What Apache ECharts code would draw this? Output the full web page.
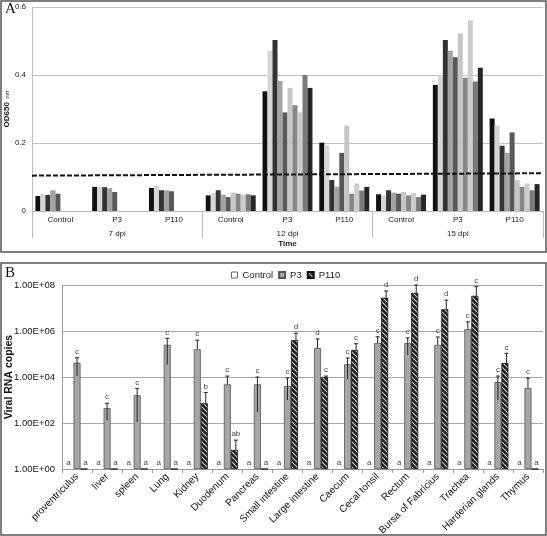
<!DOCTYPE html>
<html><head><meta charset="utf-8">
<script src="https://cdn.jsdelivr.net/npm/echarts@6/dist/echarts.min.js"></script>
<style>html,body{margin:0;padding:0;background:#fff}#c{width:547px;height:536px}</style>
</head><body><div id="c"></div>
<script>
// ---------- Panel A data (OD650, 10 birds per group) ----------
const categoriesA = ['Control','P3','P110','Control','P3','P110','Control','P3','P110'];
const timeGroups = ['7 dpi','12 dpi','15 dpi'];
const od7Control  = [0.044,0.050,0.047,0.061,0.051];
const od7P3       = [0.071,0.072,0.070,0.067,0.056];
const od7P110     = [0.068,0.074,0.061,0.061,0.058];
const od12Control = [0.046,0.053,0.061,0.048,0.041,0.054,0.051,0.048,0.049,0.046];
const od12P3      = [0.352,0.471,0.503,0.382,0.290,0.362,0.311,0.290,0.400,0.362];
const od12P110    = [0.201,0.192,0.091,0.071,0.171,0.251,0.051,0.081,0.060,0.071];
const od15Control = [0.049,0.046,0.061,0.054,0.051,0.056,0.046,0.053,0.041,0.048];
const od15P3      = [0.371,0.400,0.503,0.471,0.452,0.522,0.392,0.561,0.381,0.421];
const od15P110    = [0.272,0.251,0.192,0.171,0.231,0.091,0.071,0.081,0.061,0.079];
const cutoff = [0.104, 0.111];
const yTicksA = [0, 0.2, 0.4, 0.6];

// ---------- Panel B data (viral RNA copies) ----------
const tissues = ['proventriculus','liver','spleen','Lung','Kidney','Duodenum','Pancreas','Small intestine','Large intestine','Caecum','Cecal tonsil','Rectum','Bursa of Fabricius','Trachea','Harderian glands','Thymus'];
const copiesControl = [0,0,0,0,0,0,0,0,0,0,0,0,0,0,0,0];
const copiesP3   = [4.2e4,4.4e2,1.6e3,2.5e5,1.6e5,4.8e3,4.8e3,4.0e3,1.8e5,3.6e4,3.0e5,3.0e5,2.5e5,1.2e6,6.0e3,3.3e3];
const p3High     = [6.9e4,7.2e2,3.2e3,4.8e5,4.0e5,1.1e4,1.0e4,9.0e3,4.5e5,6.7e4,5.6e5,5.0e5,5.5e5,2.5e6,1.1e4,9.0e3];
const p3Low      = [1.1e4,1.3e2,1.1e2,3.5e4,1.6e5,4.8e3,3.0e2,1.0e3,1.8e5,8.0e3,3.0e5,9.0e4,2.5e5,1.2e6,1.0e3,3.3e3];
const copiesP110 = [0,0,0,0,7.2e2,6.7,0,4.0e5,1.0e4,1.5e5,2.8e7,4.6e7,8.8e6,3.4e7,4.0e4,0];
const p110High   = [0,0,0,0,2.1e3,18,0,8.0e5,1.1e4,2.8e5,5.5e7,1.0e8,2.2e7,8.5e7,1.07e5,0];
const lettersControl = ['a','a','a','a','a','a','a','a','a','a','a','a','a','a','a','a'];
const lettersP3   = ['c','c','c','c','c','c','c','c','d','c','c','c','c','c','c','c'];
const lettersP110 = ['a','a','a','a','b','ab','a','d','c','c','d','d','d','c','c','a'];
const yTicksB = [1e0,1e2,1e4,1e6,1e8];

// ---------- build ----------
const groupsA = [od7Control,od7P3,od7P110,od12Control,od12P3,od12P110,od15Control,od15P3,od15P110];
const birdColors = ['#111111','#d6d6d6','#333333','#a3a3a3','#595959','#c6c6c6','#868686','#cccccc','#7a7a7a','#262626'];
const seriesA = birdColors.map((col,k)=>({
  type:'bar', name:'bird'+(k+1), xAxisIndex:0, yAxisIndex:0,
  barGap:'0%', barCategoryGap:'12%',
  itemStyle:{color:col},
  data: groupsA.map(g => g[k] === undefined ? null : g[k]),
  silent:true
}));

function hatch(){
  const c=document.createElement('canvas'); c.width=5; c.height=5;
  const g=c.getContext('2d');
  g.fillStyle='#1c1c1c'; g.fillRect(0,0,5,5);
  g.strokeStyle='#cfcfcf'; g.lineWidth=1.1;
  g.beginPath();
  g.moveTo(-1,-1); g.lineTo(6,6);
  g.moveTo(-1,4); g.lineTo(2,7);
  g.moveTo(4,-1); g.lineTo(7,2);
  g.stroke();
  return c;
}
const hatchPat = {image: hatch(), repeat:'repeat'};
const floorV = v => v > 0 ? v : 1;
const BW = 7;

function errSeries(vals, low, high, letters, off){
  return {
    type:'custom', xAxisIndex:3, yAxisIndex:1, silent:true, z:5,
    data: vals.map((v,i)=>[i, floorV(v), floorV(low ? low[i] : v), floorV(high ? high[i] : v)]),
    renderItem:(params, api)=>{
      const i = api.value(0), v = api.value(1), lo = api.value(2), hi = api.value(3);
      const p = api.coord([i, v]);
      const x = p[0] + off;
      const ch = [];
      let ty;
      if (v > 1) {
        const pl = api.coord([i, lo]), ph = api.coord([i, hi]);
        ch.push({type:'line', shape:{x1:x,y1:pl[1],x2:x,y2:ph[1]}, style:{stroke:'#222',lineWidth:1}});
        ch.push({type:'line', shape:{x1:x-2,y1:ph[1],x2:x+2,y2:ph[1]}, style:{stroke:'#222',lineWidth:1}});
        ty = ph[1] - 2;
      } else {
        ty = p[1] - 2;
      }
      ch.push({type:'text', style:{text:letters[i], x:x, y:ty, align:'center', verticalAlign:'bottom',
        fontSize:8, fontFamily:'Liberation Sans, Arial', fill:'#444'}});
      return {type:'group', children:ch};
    }
  };
}

const option = {
  animation:false,
  textStyle:{fontFamily:'Liberation Sans, Arial'},
  graphic:[
    {type:'rect', shape:{x:1,y:1,width:545,height:251}, style:{fill:'none',stroke:'#555',lineWidth:1.5}, z:-1},
    {type:'rect', shape:{x:1,y:263,width:545,height:272}, style:{fill:'none',stroke:'#555',lineWidth:1.5}, z:-1},
    {type:'text', left:5, top:2, style:{text:'A', font:'15px "Liberation Serif", "DejaVu Serif", serif', fill:'#111'}},
    {type:'text', left:5, top:266, style:{text:'B', font:'15px "Liberation Serif", "DejaVu Serif", serif', fill:'#111'}}
  ],
  legend:{
    data:[
      {name:'Control', itemStyle:{color:'#fff', borderColor:'#666', borderWidth:1}},
      {name:'P3'}, {name:'P110'}
    ],
    icon:'rect',
    left:226, top:265, itemWidth:6, itemHeight:6, itemGap:5,
    textStyle:{fontSize:9.5, color:'#222', fontFamily:'Liberation Sans, Arial'}
  },
  grid:[
    {left:32, right:4, top:7, bottom:325, outerBoundsMode:'none', containLabel:false},
    {left:62, right:4, top:285, bottom:67, outerBoundsMode:'none', containLabel:false}
  ],
  xAxis:[
    {type:'category', gridIndex:0, data:categoriesA,
     axisLine:{lineStyle:{color:'#bdbdbd'}}, axisTick:{show:false},
     axisLabel:{fontSize:8, color:'#222', margin:5, interval:0}},
    {type:'category', gridIndex:0, data:timeGroups, position:'bottom',
     axisLine:{show:false}, axisTick:{show:true, length:27, lineStyle:{color:'#bdbdbd'}},
     axisLabel:{fontSize:8, color:'#222', margin:19},
     name:'Time', nameLocation:'middle', nameGap:29, nameMoveOverlap:false,
     nameTextStyle:{fontSize:8, fontWeight:'bold', color:'#222'}},
    {type:'value', gridIndex:0, min:0, max:1, show:false},
    {type:'category', gridIndex:1, data:tissues,
     axisLine:{lineStyle:{color:'#9a9a9a'}},
     axisTick:{show:true, length:4, interval:0, lineStyle:{color:'#9a9a9a'}},
     axisLabel:{rotate:45, interval:0, fontSize:10, color:'#111', margin:6}}
  ],
  yAxis:[
    {type:'value', gridIndex:0, min:yTicksA[0], max:yTicksA[yTicksA.length-1], interval:0.2,
     axisLine:{show:true, lineStyle:{color:'#bdbdbd'}}, axisTick:{show:false},
     splitLine:{lineStyle:{color:'#c4c4c4'}},
     axisLabel:{fontSize:8, color:'#222', margin:6, formatter:v=> v===0 ? '0' : v.toFixed(1)},
     name:'{a|OD650} {b|nm}', nameLocation:'middle', nameGap:19, nameRotate:90, nameMoveOverlap:false,
     nameTextStyle:{rich:{a:{fontSize:8, fontWeight:'bold', color:'#222'}, b:{fontSize:6, color:'#222'}}}},
    {type:'log', logBase:100, gridIndex:1, min:yTicksB[0], max:yTicksB[yTicksB.length-1],
     axisLine:{show:true, lineStyle:{color:'#9a9a9a'}}, axisTick:{show:false},
     splitLine:{lineStyle:{color:'#a8a8a8'}},
     axisLabel:{fontSize:9.5, color:'#111', margin:7,
       formatter:v=>{const e=Math.round(Math.log10(v)); return '1.00E+'+String(e).padStart(2,'0');}},
     name:'Viral RNA copies', nameLocation:'middle', nameGap:47, nameRotate:90, nameMoveOverlap:false,
     nameTextStyle:{fontSize:10.5, fontWeight:'bold', color:'#111'}}
  ],
  series:[
    ...seriesA,
    {type:'line', xAxisIndex:2, yAxisIndex:0, data:[[0,cutoff[0]],[1,cutoff[1]]], symbol:'none', silent:true, z:6,
     lineStyle:{color:'#111', width:2, type:[5,2]}},
    {type:'bar', name:'Control', xAxisIndex:3, yAxisIndex:1, barWidth:BW, barGap:'0%',
     itemStyle:{color:'#fff', borderWidth:0}, data:copiesControl.map(floorV), silent:true},
    {type:'bar', name:'P3', xAxisIndex:3, yAxisIndex:1, barWidth:BW, barGap:'0%',
     itemStyle:{color:'#a6a6a6', borderColor:'#555', borderWidth:0.8}, data:copiesP3.map(floorV), silent:true},
    {type:'bar', name:'P110', xAxisIndex:3, yAxisIndex:1, barWidth:BW, barGap:'0%',
     itemStyle:{color:hatchPat, borderColor:'#111', borderWidth:0.8}, data:copiesP110.map(floorV), silent:true},
    errSeries(copiesControl, null, null, lettersControl, -BW-1.5),
    errSeries(copiesP3, p3Low, p3High, lettersP3, 0),
    errSeries(copiesP110, null, p110High, lettersP110, BW+1.5)
  ]
};
const chart = echarts.init(document.getElementById('c'), null, {renderer:'canvas'});
chart.setOption(option);
</script></body></html>
